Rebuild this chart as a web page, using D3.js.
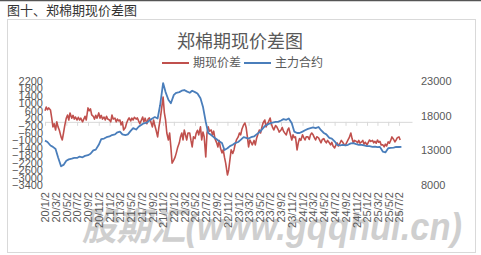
<!DOCTYPE html>
<html>
<head>
<meta charset="utf-8">
<script src="https://cdn.jsdelivr.net/npm/d3@7"></script>
<style>
  body { margin: 0; background: #fff; }
  svg { display: block; }
  .tick text { font-family: "Liberation Sans", Arial, sans-serif; font-size: 11px; fill: #595959; }
  .cjk { font-family: "Noto Sans CJK SC", sans-serif; }
</style>
</head>
<body>
<div id="chart"></div>
<script>
// 郑棉期现价差图 - basis (left axis) vs. main contract (right axis)

var svgWidth = 481;
var svgHeight = 255;

// tick labels
var dateLabels = ["20/1/2","20/3/2","20/5/2","20/7/2","20/9/2","20/11/2",
  "21/1/2","21/3/2","21/5/2","21/7/2","21/9/2","21/11/2",
  "22/1/2","22/3/2","22/5/2","22/7/2","22/9/2","22/11/2",
  "23/1/2","23/3/2","23/5/2","23/7/2","23/9/2","23/11/2",
  "24/1/2","24/3/2","24/5/2","24/7/2","24/9/2","24/11/2",
  "25/1/2","25/3/2","25/5/2","25/7/2"];
var leftTicks = [2200,1800,1400,1000,600,200,-200,-600,-1000,-1400,-1800,-2200,-2600,-3000,-3400];
var rightTicks = [8000,13000,18000,23000];

// 期现价差, four readings per month from 2020-01
var basis = [
  600,800,650,750, 640,210,-270,-100, -440,0,-270,-440, -810,-975,-600,-200,
  210,370,100,480, 200,350,150,260, 100,250,100,200, 0,150,300,100,
  750,600,700,370, 300,150,350,200, 480,200,350,150, 260,100,300,150,
  100,0,370,150, 200,0,150,50, 100,-160,0,-440, -300,-60,100,210,
  50,200,100,250, 150,210,50,-100, 100,260,0,200, -100,150,210,50,
  -270,100,-200,-440, -810,-300,100,600, 1340,500,100,-600, -975,-600,-1350,-2220,
  -2050,-1900,-1670,-1400, -1130,-800,-600,-975, -440,-700,-975,-600, -600,-1000,-1350,-810,
  -900,-600,-450,-700, -270,-975,-550,-800, -1890,-600,-270,-500, -440,-700,-500,-900,
  -1130,-1350,-1000,-1400, -1670,-1500,-1900,-2220, -2860,-2590,-2050,-1510, -1700,-1510,-1200,-975,
  -810,-600,-700,-400, -160,-60,-300,-810, -1350,-975,-1100,-1240, -1000,-1240,-900,-700,
  -440,-600,-300,-60, 100,-270,-100,0, 210,-100,-300,-440, -200,-270,-400,-550,
  -440,-300,-500,-600, -700,-450,-330,-600, -975,-700,-850,-810, -1510,-1130,-900,-1000,
  -700,-850,-975,-800, -810,-950,-700,-600, -700,-850,-975,-800, -860,-1000,-1130,-950,
  -900,-1050,-1130,-1000, -1130,-1240,-1100,-1300, -1400,-1250,-1130,-1300, -1130,-1000,-1080,-1200,
  -1240,-1100,-975,-850, -600,-900,-1130,-1000, -1050,-1130,-1000,-1150, -1080,-1000,-1200,-1100,
  -1240,-1100,-975,-1050, -1000,-1130,-1050,-1150, -975,-1100,-1050,-1240, -1240,-1350,-1200,-1300,
  -1080,-1150,-1000,-810, -950,-1080,-975,-850, -810,-975
];

// 主力合约, two readings per month from 2020-01
var mainContract = [
  14400,14200, 13700,13500, 13200,12000, 10700,10900, 11500,11700, 11800,11900,
  11900,12100, 12000,12200, 12300,12500, 13000,13100, 13800,14600, 14700,14900,
  15000,15200, 15300,15600, 15700,15300, 15200,15300, 15800,16200, 16000,16400,
  16700,16900, 17000,17300, 17600,17800, 17600,19500, 22700,21400, 20300,19800,
  21000,21300, 21400,21600, 21700,21500, 21300,21600, 21400,21200, 20500,19300,
  17100,15500, 15200,14900, 14600,14300, 14050,13050, 13300,13600, 13800,14050,
  14200,14500, 14900,14800, 14700,14900, 15000,15300, 15600,16000, 16500,16700,
  16900,17000, 17100,17100, 17300,17500, 17400,17600, 16900,15700, 15500,15500,
  15700,15900, 16100,16200, 16300,16200, 16370,15900, 15500,15300, 14800,14700,
  14300,13800, 13700,13800, 13700,13800, 14000,14050, 13900,13800, 13800,13700,
  13600,13600, 13500,13550, 13450,13500, 12800,12700, 13300,13350, 13400,13500,
  13480,13500
];

var quarterDays = [2, 9, 16, 23];
var halfDays = [2, 16];

var basisData = basis.map(function(v, i) {
  return { date: new Date(2020, Math.floor(i / 4), quarterDays[i % 4]), value: v };
});
var mainData = mainContract.map(function(v, i) {
  return { date: new Date(2020, Math.floor(i / 2), halfDays[i % 2]), value: v };
});
var tickDates = dateLabels.map(function(s) {
  var p = s.split("/");
  return new Date(2000 + +p[0], +p[1] - 1, +p[2]);
});

var svg = d3.select("#chart")
  .append("svg")
  .attr("width", svgWidth)
  .attr("height", svgHeight);

// page frame
svg.append("line")
  .attr("x1", 0).attr("x2", svgWidth).attr("y1", 0.5).attr("y2", 0.5)
  .attr("stroke", "#555").attr("stroke-width", 1.5);

svg.append("text")
  .attr("class", "cjk")
  .attr("x", 7).attr("y", 15)
  .attr("font-size", 13)
  .attr("fill", "#333")
  .text("图十、郑棉期现价差图");

svg.append("rect")
  .attr("x", 7.5).attr("y", 19.5)
  .attr("width", 468).attr("height", 233)
  .attr("fill", "#fff")
  .attr("stroke", "#d9d9d9");

// watermark
svg.append("text")
  .attr("x", 82).attr("y", 240)
  .attr("font-family", "Liberation Sans, Noto Sans CJK SC, sans-serif")
  .attr("font-size", 38)
  .attr("font-weight", "bold")
  .attr("font-style", "italic")
  .attr("fill", "#cfcfcf")
  .attr("textLength", 380)
  .attr("lengthAdjust", "spacingAndGlyphs")
  .text("股期汇(www.gqqhui.cn)");

// chart title
svg.append("text")
  .attr("class", "cjk")
  .attr("x", 240).attr("y", 48)
  .attr("text-anchor", "middle")
  .attr("font-size", 18)
  .attr("fill", "#595959")
  .text("郑棉期现价差图");

// scales
var xScale = d3.scaleTime()
  .domain([new Date(2020, 0, 2), new Date(2025, 8, 14)])
  .range([45, 412]);

var yLeft = d3.scaleLinear()
  .domain([-3400, 2200])
  .range([185, 81]);

var yRight = d3.scaleLinear()
  .domain([8000, 23000])
  .range([185, 81]);

var plain = d3.format("d");

// left axis
var leftAxis = svg.append("g")
  .attr("transform", "translate(45,0)")
  .call(d3.axisLeft(yLeft).tickValues(leftTicks).tickFormat(plain).tickSize(0).tickPadding(2));
leftAxis.select(".domain").remove();

// right axis
var rightAxis = svg.append("g")
  .attr("transform", "translate(418,0)")
  .call(d3.axisRight(yRight).tickValues(rightTicks).tickFormat(plain).tickSize(0).tickPadding(3));
rightAxis.select(".domain").remove();

// horizontal axis line at zero
var zeroAxis = svg.append("g")
  .attr("transform", `translate(0,${yLeft(0)})`)
  .call(d3.axisBottom(xScale).tickValues(tickDates).tickSize(4).tickSizeOuter(0).tickFormat(""));
zeroAxis.selectAll("line").attr("stroke", "#d9d9d9");
zeroAxis.select(".domain").attr("stroke", "#d9d9d9");

// date labels at the bottom
var fmt = d3.timeFormat("%y/%-m/%-d");
var bottomAxis = svg.append("g")
  .attr("transform", "translate(0,188)")
  .call(d3.axisBottom(xScale).tickValues(tickDates).tickSize(0).tickFormat(fmt));
bottomAxis.select(".domain").remove();
bottomAxis.selectAll("text")
  .attr("transform", "rotate(-90)")
  .attr("text-anchor", "end")
  .attr("x", -4)
  .attr("y", 0)
  .attr("dy", "0.35em");

// lines
var basisLine = d3.line()
  .x(d => xScale(d.date))
  .y(d => yLeft(d.value));

var mainLine = d3.line()
  .x(d => xScale(d.date))
  .y(d => yRight(d.value));

svg.append("path")
  .datum(basisData)
  .attr("d", basisLine)
  .attr("fill", "none")
  .attr("stroke", "#c0504d")
  .attr("stroke-width", 1.6)
  .attr("stroke-linejoin", "round");

svg.append("path")
  .datum(mainData)
  .attr("d", mainLine)
  .attr("fill", "none")
  .attr("stroke", "#4a7ebb")
  .attr("stroke-width", 1.8)
  .attr("stroke-linejoin", "round");

// legend
var legendItems = [
  { name: "期现价差", color: "#c0504d", x: 162 },
  { name: "主力合约", color: "#4a7ebb", x: 244 }
];
var legend = svg.selectAll(".legend")
  .data(legendItems)
  .enter()
  .append("g")
  .attr("class", "legend")
  .attr("transform", d => `translate(${d.x},63)`);

legend.append("line")
  .attr("x1", 0).attr("x2", 27)
  .attr("stroke", d => d.color)
  .attr("stroke-width", 2);

legend.append("text")
  .attr("class", "cjk")
  .attr("x", 31)
  .attr("dy", "0.35em")
  .attr("font-size", 12)
  .attr("fill", "#595959")
  .text(d => d.name);
</script>
</body>
</html>
